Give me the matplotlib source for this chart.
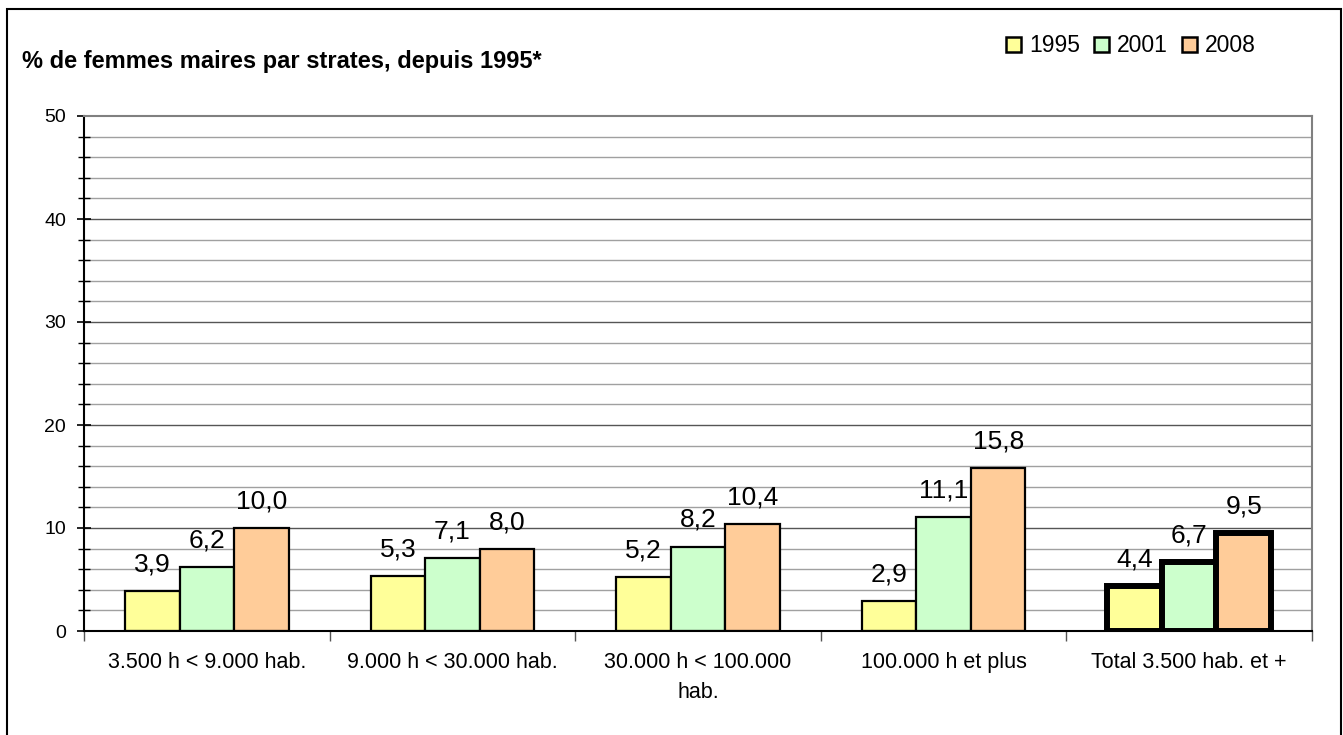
import matplotlib
matplotlib.use("Agg")
import matplotlib.pyplot as plt
import numpy as np
from matplotlib.patches import Rectangle

categories = ["3.500 h < 9.000 hab.", "9.000 h < 30.000 hab.", "30.000 h < 100.000\nhab.",
              "100.000 h et plus", "Total 3.500 hab. et +"]
years = ["1995", "2001", "2008"]
v1995 = [3.9, 5.3, 5.2, 2.9, 4.4]
v2001 = [6.2, 7.1, 8.2, 11.1, 6.7]
v2008 = [10.0, 8.0, 10.4, 15.8, 9.5]
colors = ["#FFFF99", "#CCFFCC", "#FFCC99"]
title = "% de femmes maires par strates, depuis 1995*"

plt.rcParams['font.family'] = ['Liberation Sans', 'DejaVu Sans']

fig = plt.figure(figsize=(13.43, 7.35), dpi=100)
W, H = 1343, 735
ax = fig.add_axes([84 / W, 1 - 631 / H, (1312 - 84) / W, (631 - 116) / H])

series = [v1995, v2001, v2008]
x = np.arange(len(categories))
bw = 0.2222
handles = []
for i, (vals, c, yr) in enumerate(zip(series, colors, years)):
    offs = (i - 1) * bw
    for j, v in enumerate(vals):
        thick = (j == len(categories) - 1)
        ax.bar(x[j] + offs, v, width=bw, color=c, edgecolor="black",
               linewidth=4.3 if thick else 1.6, zorder=3)
        ax.annotate(f"{v:.1f}".replace(".", ","), (x[j] + offs, v),
                    xytext=(0, 10.5), textcoords="offset points",
                    ha="center", va="bottom", fontsize=19, zorder=4)
    handles.append(Rectangle((0, 0), 1, 1, facecolor=c, edgecolor="black", linewidth=1.8))

ax.set_xlim(-0.5, len(categories) - 0.5)
ax.set_ylim(0, 50)

# gridlines
for yv in np.arange(2, 50, 2):
    major = (yv % 10 == 0)
    ax.axhline(yv, color="#555555" if major else "#A0A0A0", linewidth=1.0, zorder=1)

ax.set_yticks(np.arange(0, 51, 10))
ax.set_yticks(np.arange(0, 51, 2), minor=True)
ax.tick_params(axis="y", which="major", direction="inout", length=10, width=1.2,
               labelsize=14, pad=8, colors="black")
ax.tick_params(axis="y", which="minor", direction="inout", length=8, width=1.0)

ax.set_xticks(np.arange(-0.5, len(categories), 1.0))
ax.set_xticklabels([])
ax.set_xticks(x, minor=True)
ax.set_xticklabels(categories, minor=True, fontsize=15.5, linespacing=1.6)
ax.tick_params(axis="x", which="major", direction="out", length=7, width=1.0, color="#555555")
ax.tick_params(axis="x", which="minor", length=0, pad=15)

for s in ["top", "right"]:
    ax.spines[s].set_color("#808080")
    ax.spines[s].set_linewidth(1.5)
for s in ["left", "bottom"]:
    ax.spines[s].set_color("black")
    ax.spines[s].set_linewidth(1.5)
ax.spines["bottom"].set_zorder(5)

fig.text(22 / W, 1 - 68 / H, title, fontsize=17, fontweight="bold", va="baseline", ha="left")

leg = fig.legend(handles, years, loc="center", bbox_to_anchor=(1131 / W, 1 - 46 / H),
                 ncol=3, frameon=False, fontsize=16.5, handlelength=0.65, handleheight=0.65,
                 handletextpad=0.35, columnspacing=0.6, borderaxespad=0)

fig.patches.append(Rectangle((7 / W, -0.05), (1341 - 7) / W, 1.05 - 9 / H,
                             transform=fig.transFigure, fill=False, edgecolor="black",
                             linewidth=1.5))

fig.savefig("out.png", dpi=100)
